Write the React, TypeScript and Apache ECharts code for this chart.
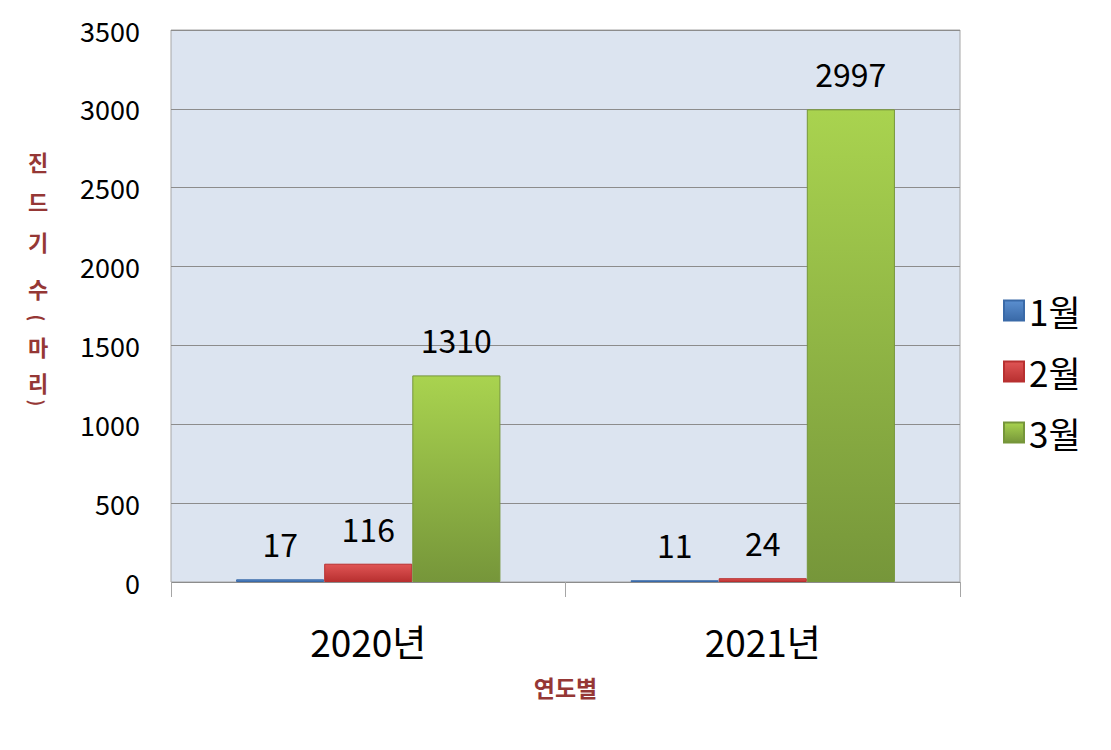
import React, { useEffect, useRef } from "react";
import * as echarts from "echarts";

const categories = ["2020년", "2021년"];
const seriesNames = ["1월", "2월", "3월"];
const jan = [17, 11];
const feb = [116, 24];
const mar = [1310, 2997];
const yTicks = [0, 500, 1000, 1500, 2000, 2500, 3000, 3500];

const FONT = "'Noto Sans CJK KR', 'Noto Sans', sans-serif";

const grad = (top: string, bottom: string) =>
  new echarts.graphic.LinearGradient(0, 0, 0, 1, [
    { offset: 0, color: top },
    { offset: 1, color: bottom },
  ]);

export default function App() {
  const ref = useRef<HTMLDivElement>(null);
  useEffect(() => {
    const chart = echarts.init(ref.current!, null, { renderer: "svg" });
    const colors = [
      ["#5b8fd0", "#3a6aa8"],
      ["#e05555", "#b83030"],
      ["#a9d34f", "#76963a"],
    ];
    const datas = [jan, feb, mar];
    const yChars = ["진", "드", "기", "수", "(", "마", "리", ")"];
    const yCharY = [161, 201, 241, 288, 318, 346, 382, 403];
    chart.setOption({
      animation: false,
      textStyle: { fontFamily: FONT },
      grid: {
        left: 171,
        right: 151,
        top: 30,
        bottom: 168,
        show: true,
        backgroundColor: "#dce4f0",
        borderColor: "#a6a6a6",
        borderWidth: 1,
      },
      legend: {
        orient: "vertical",
        left: 998,
        top: 288,
        itemWidth: 20,
        itemHeight: 20,
        itemGap: 26,
        icon: "rect",
        textStyle: { fontSize: 35, color: "#000", fontFamily: FONT },
        data: seriesNames,
      },
      xAxis: {
        type: "category",
        data: categories,
        axisLine: { show: false },
        axisTick: { show: true, length: 15, lineStyle: { color: "#a6a6a6" } },
        axisLabel: { fontSize: 37, color: "#000", margin: 40, fontFamily: FONT },
        name: "연도별",
        nameLocation: "middle",
        nameGap: 93,
        nameTextStyle: { fontSize: 23, fontWeight: "bold", color: "#953735", fontFamily: FONT },
      },
      yAxis: {
        type: "value",
        min: 0,
        max: 3500,
        interval: 500,
        axisLine: { show: false },
        axisTick: { show: false },
        axisLabel: {
          fontSize: 27,
          color: "#000",
          margin: 31,
          fontFamily: FONT,
          formatter: (v: number) => (yTicks.includes(v) ? String(v) : ""),
        },
        splitLine: { lineStyle: { color: "#8c8c8c", width: 1 } },
      },
      series: seriesNames.map((name, i) => ({
        name,
        type: "bar",
        data: datas[i],
        barGap: "0%",
        barCategoryGap: "33%",
        itemStyle: {
          color: grad(colors[i][0], colors[i][1]),
          borderColor: colors[i][1],
          borderWidth: 1,
        },
        label: {
          show: true,
          position: "top",
          distance: 20,
          fontSize: 32,
          color: "#000",
          fontFamily: FONT,
        },
      })),
      graphic: yChars.map((c, i) => {
        const paren = c === "(" || c === ")";
        return {
          type: "text",
          x: 38,
          y: yCharY[i],
          rotation: paren ? -Math.PI / 2 : 0,
          style: {
            text: c,
            fontSize: paren ? 18 : 22,
            fontWeight: "bold",
            fill: "#953735",
            fontFamily: FONT,
            align: "center",
            verticalAlign: "middle",
          },
        };
      }),
    });
    return () => chart.dispose();
  }, []);
  return (
    <div
      ref={ref}
      style={{ position: "absolute", left: 0, top: 0, width: 1111, height: 750 }}
    />
  );
}
